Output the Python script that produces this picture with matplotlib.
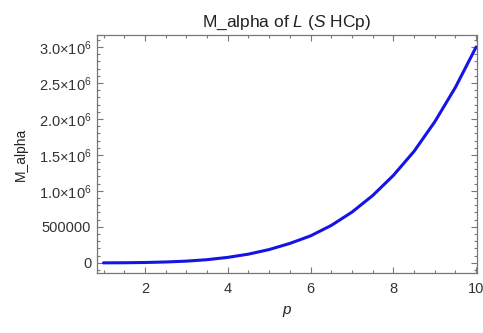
import matplotlib
matplotlib.use("Agg")
import matplotlib.pyplot as plt
from matplotlib.ticker import MultipleLocator, FixedLocator, FixedFormatter

plt.rcParams['font.family'] = ['Liberation Sans', 'DejaVu Sans']
plt.rcParams['mathtext.fontset'] = 'custom'
plt.rcParams['mathtext.rm'] = 'Liberation Sans'
plt.rcParams['mathtext.it'] = 'Liberation Sans:italic'

p_vals = [1, 1.5, 2, 2.5, 3, 3.5, 4, 4.5, 5, 5.5, 6, 6.5, 7, 7.5, 8, 8.5, 9, 9.5, 10]
m_alpha = [0, 1500, 5000, 12000, 24000, 44000, 76000, 121000, 185000, 270000,
           375000, 520000, 705000, 935000, 1215000, 1550000, 1960000, 2440000, 3000000]

y_ticks = [0, 500000, 1000000, 1500000, 2000000, 2500000, 3000000]
y_tick_labels = ['0', '500000', '1.0$\\times$10$^{6}$', '1.5$\\times$10$^{6}$',
                 '2.0$\\times$10$^{6}$', '2.5$\\times$10$^{6}$', '3.0$\\times$10$^{6}$']
x_ticks = [2, 4, 6, 8, 10]
x_tick_labels = ['2', '4', '6', '8', '10']

fig = plt.figure(figsize=(4.83, 3.33), dpi=100)
ax = fig.add_axes([0.2002, 0.1793, 0.7874, 0.7165])

ax.plot(p_vals, m_alpha, color='#1414e6', lw=2.2, solid_capstyle='round')

ax.set_xlim(0.835, 10.02)
ax.set_ylim(-145000, 3170000)

ax.xaxis.set_major_locator(FixedLocator(x_ticks))
ax.xaxis.set_major_formatter(FixedFormatter(x_tick_labels))
ax.xaxis.set_minor_locator(MultipleLocator(0.5))
ax.yaxis.set_major_locator(FixedLocator(y_ticks))
ax.yaxis.set_major_formatter(FixedFormatter(y_tick_labels))
ax.yaxis.set_minor_locator(MultipleLocator(100000))

frame_col = '#777777'
for s in ax.spines.values():
    s.set_color(frame_col)
    s.set_linewidth(0.9)
ax.tick_params(which='both', direction='in', top=True, right=True, color=frame_col,
               labelcolor='#333333', labelsize=10.5, width=0.8)
ax.tick_params(axis='x', which='major', pad=6)
ax.tick_params(which='major', length=4.5)
ax.tick_params(axis='y', which='major', pad=4)
ax.tick_params(which='minor', length=2.3)

ax.set_title('M_alpha of $\\mathit{L}$ ($\\mathit{S}$ HCp)', fontsize=12.5, color='#222222', pad=6)
ax.set_ylabel('M_alpha', fontsize=10, color='#222222', labelpad=8)
ax.set_xlabel('$\\mathit{p}$', fontsize=11, color='#222222', labelpad=6)

fig.savefig('out.png', dpi=100)
